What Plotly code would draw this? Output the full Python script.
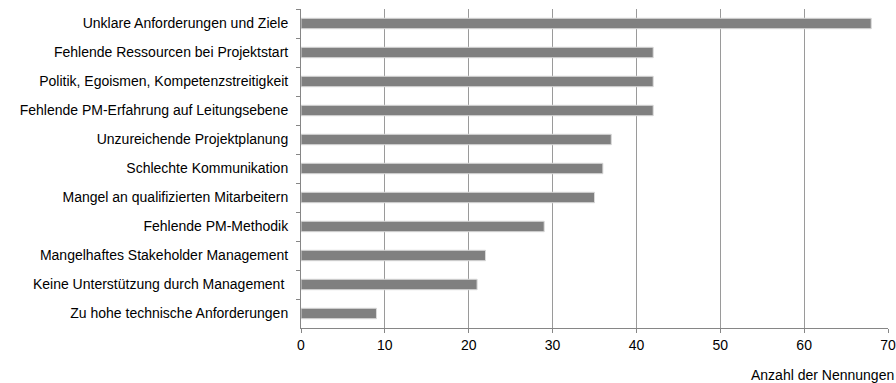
import plotly.graph_objects as go

# Reasons for project failure and number of mentions
reasons = [
    "Unklare Anforderungen und Ziele",
    "Fehlende Ressourcen bei Projektstart",
    "Politik, Egoismen, Kompetenzstreitigkeit",
    "Fehlende PM-Erfahrung auf Leitungsebene",
    "Unzureichende Projektplanung",
    "Schlechte Kommunikation",
    "Mangel an qualifizierten Mitarbeitern",
    "Fehlende PM-Methodik",
    "Mangelhaftes Stakeholder Management",
    "Keine Unterstützung durch Management\u00a0",
    "Zu hohe technische Anforderungen",
]
mentions = [68, 42, 42, 42, 37, 36, 35, 29, 22, 21, 9]
x_ticks = [0, 10, 20, 30, 40, 50, 60, 70]
x_title = "Anzahl der Nennungen"

FONT = "Liberation Sans, Arial, sans-serif"

fig = go.Figure(
    go.Bar(
        y=reasons,
        x=mentions,
        orientation="h",
        marker=dict(color="#808080", line=dict(color="#d9d9d9", width=1)),
        width=0.36,
        hoverinfo="x+y",
    )
)

fig.update_layout(
    width=896,
    height=383,
    margin=dict(l=301, r=8, t=9, b=55),
    paper_bgcolor="white",
    plot_bgcolor="white",
    showlegend=False,
    font=dict(family=FONT, size=14, color="#000000"),
    xaxis=dict(
        range=[0, 70],
        tickvals=x_ticks,
        automargin=False,
        showgrid=True,
        gridcolor="#9a9a9a",
        gridwidth=1,
        zeroline=False,
        showline=True,
        linecolor="#868686",
        linewidth=1,
        ticks="outside",
        ticklen=4,
        tickcolor="#868686",
        tickfont=dict(family=FONT, size=14, color="#000000"),
    ),
    yaxis=dict(
        autorange="reversed",
        automargin=False,
        showgrid=False,
        showline=True,
        linecolor="#868686",
        linewidth=1,
        ticks="outside",
        tickson="boundaries",
        ticklen=4,
        tickcolor="#868686",
        ticklabelstandoff=9,
        tickfont=dict(family=FONT, size=14, color="#000000"),
    ),
    annotations=[
        dict(
            text=x_title,
            xref="paper",
            yref="paper",
            x=1,
            y=0,
            xanchor="right",
            yanchor="top",
            xshift=8,
            yshift=-37,
            showarrow=False,
            font=dict(family=FONT, size=14, color="#000000"),
        )
    ],
)

fig.write_html("out.html")
